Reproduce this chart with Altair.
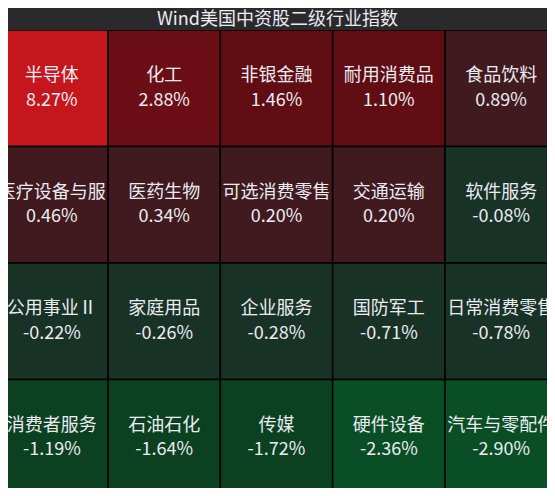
import altair as alt
import pandas as pd

title_text = "Wind美国中资股二级行业指数"
names = ["半导体", "化工", "非银金融", "耐用消费品", "食品饮料",
         "医疗设备与服", "医药生物", "可选消费零售", "交通运输", "软件服务",
         "公用事业Ⅱ", "家庭用品", "企业服务", "国防军工", "日常消费零售",
         "消费者服务", "石油石化", "传媒", "硬件设备", "汽车与零配件"]
values = [8.27, 2.88, 1.46, 1.10, 0.89,
          0.46, 0.34, 0.20, 0.20, -0.08,
          -0.22, -0.26, -0.28, -0.71, -0.78,
          -1.19, -1.64, -1.72, -2.36, -2.90]
n_cols = 5
n_rows = 4

color_domain = [-2, -1, 0, 1, 2, 5]
color_range = ["#0a4e25", "#0b4020", "#183326", "#401a1e", "#600e13", "#6c0e16", "#c4161c"]

df = pd.DataFrame({"name": names, "value": values})
df["col"] = df.index % n_cols
df["row"] = df.index // n_cols
df["col2"] = df["col"] + 1
df["row2"] = df["row"] + 1
df["cx"] = df["col"] + 0.5
df["cy"] = df["row"] + 0.5

FONT = "Noto Sans CJK SC"
TXT = "#ebebf2"

xs = alt.Scale(domain=[0, n_cols], range=[-12.3, 549.3])
ys = alt.Scale(domain=[0, n_rows], range=[0, 466])

base = alt.Chart(df)

rects = base.mark_rect(stroke="#000000", strokeWidth=1.5, clip=True).encode(
    x=alt.X("col:Q", scale=xs, axis=None),
    x2="col2:Q",
    y=alt.Y("row:Q", scale=ys, axis=None),
    y2="row2:Q",
    color=alt.Color("value:Q", scale=alt.Scale(type="threshold", domain=color_domain, range=color_range), legend=None),
)

name_text = base.mark_text(dy=-12, fontSize=18, font=FONT, color=TXT, baseline="middle").encode(
    x=alt.X("cx:Q", scale=xs, axis=None),
    y=alt.Y("cy:Q", scale=ys, axis=None),
    text="name:N",
)

pct_text = base.transform_calculate(
    label="(datum.value < 0 ? '-' : '') + format(abs(datum.value), '.2f') + '%'"
).mark_text(dy=12.5, fontSize=18, font=FONT, color=TXT, baseline="middle").encode(
    x=alt.X("cx:Q", scale=xs, axis=None),
    y=alt.Y("cy:Q", scale=ys, axis=None),
    text="label:N",
)

chart = alt.layer(rects, name_text, pct_text).properties(
    width=539,
    height=458,
    padding={"left": 0, "top": 22, "right": 0, "bottom": 0},
    autosize=alt.AutoSizeParams(type="none"),
    background="#2a2a2c",
    title=alt.TitleParams(title_text, fontSize=18, font=FONT, color=TXT,
                          fontWeight="normal", anchor="middle", offset=1),
).configure_view(stroke=None)

chart.save("out.html", embed_options={"renderer": "svg", "actions": False})
